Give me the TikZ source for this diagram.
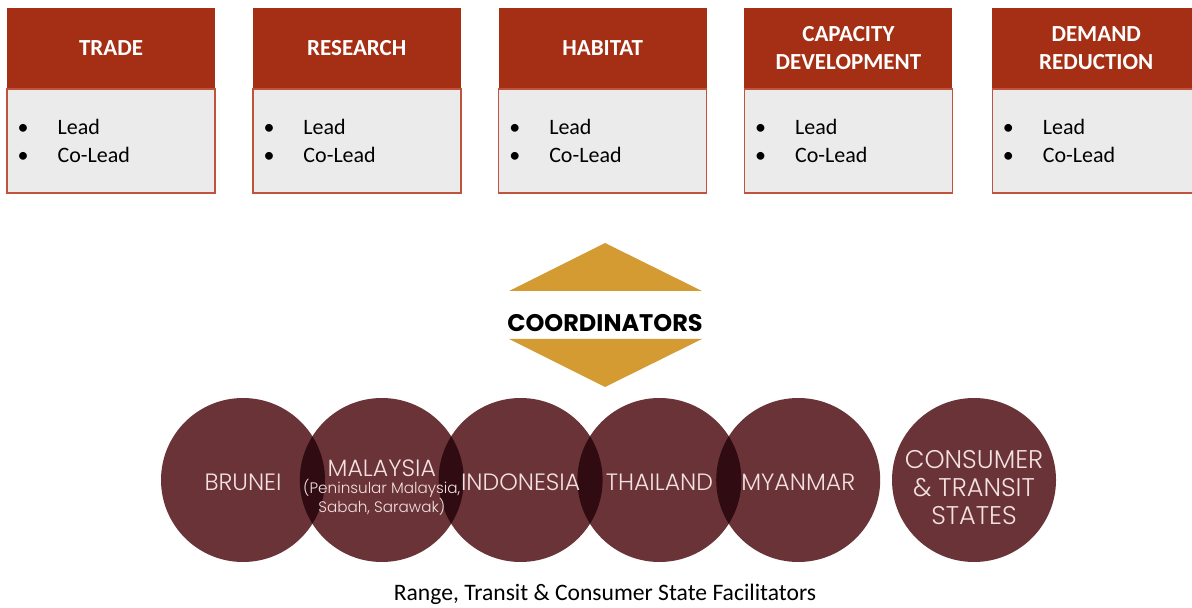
\documentclass[tikz,border=0pt]{standalone}
\usepackage{fontspec}
\setmainfont{Carlito}
\newfontfamily\circfont{Poppins}[UprightFont=* Light]
\newfontfamily\coordfont{Poppins}[UprightFont=* Bold]
\usetikzlibrary{positioning}
\definecolor{headred}{HTML}{A52F14}
\definecolor{boxline}{HTML}{C0533E}
\definecolor{bodygrey}{HTML}{EBEBEB}
\definecolor{gold}{HTML}{D39B32}
\definecolor{circfill}{HTML}{6A3338}
\definecolor{lensfill}{HTML}{300C12}
\definecolor{circtext}{HTML}{F3E1E1}
\tikzset{
  head/.style={rectangle, fill=headred, text=white, inner sep=0pt,
    minimum width=104pt, minimum height=40pt, align=center,
    font=\bfseries\fontsize{11.5}{14}\selectfont},
  body/.style={rectangle, fill=bodygrey, draw=boxline, line width=0.7pt,
    minimum width=104pt, minimum height=52pt, inner sep=0pt},
  leadlist/.style={anchor=west, inner sep=0pt, align=left,
    font=\fontsize{11}{14}\selectfont},
  country/.style={circle, fill=circfill, minimum size=82pt, inner sep=0pt},
  ctext/.style={text=circtext, align=center, inner sep=0pt,
    font=\circfont\fontsize{11.8}{14}\selectfont}
}
\newcommand{\leads}{\textbullet\hspace{14.5pt}Lead\\\textbullet\hspace{14.5pt}Co-Lead}

\begin{document}
\begin{tikzpicture}[x=0.5pt, y=-0.5pt]
        \clip (0,0) rectangle (1192,608);
        \fill[white] (0,0) rectangle (1192,608);

        %working groups
        \node[head] (trade) at (111,48) {TRADE};
        \node[head, right=18.5pt of trade] (research) {RESEARCH};
        \node[head, right=18.5pt of research] (habitat) {HABITAT};
        \node[head, right=18.5pt of habitat] (capacity) {CAPACITY\\DEVELOPMENT};
        \node[head, right=19.5pt of capacity] (demand) {DEMAND\\REDUCTION};

        \foreach \g in {trade, research, habitat, capacity, demand}{
          \node[body, below=0pt of \g] (\g-body) {};
          \node[leadlist] (\g-list) at ([xshift=5.5pt]\g-body.west) {\leads};
        }

        %coordinators
        \node[font=\coordfont\fontsize{12}{12}\selectfont] (coord) at (605,323) {COORDINATORS};
        \fill[gold] (509,291) -- (605,243) -- (702,291) -- cycle;
        \fill[gold] (509,339) -- (702,339) -- (605,387) -- cycle;

        %facilitators
        \node[country] (brunei) at (243,480) {};
        \node[country, right=-13pt of brunei] (malaysia) {};
        \node[country, right=-13pt of malaysia] (indonesia) {};
        \node[country, right=-13pt of indonesia] (thailand) {};
        \node[country, right=-13pt of thailand] (myanmar) {};
        \node[country, right=5.5pt of myanmar] (consumer) {};

        \foreach \a/\b in {brunei/malaysia, malaysia/indonesia, indonesia/thailand, thailand/myanmar}{
          \begin{scope}
            \clip (\a) circle[radius=41pt];
            \fill[lensfill] (\b) circle[radius=41pt];
          \end{scope}
        }

        \node[ctext] (brunei-t) at ([yshift=-1pt]brunei) {BRUNEI};
        \node[ctext] (malaysia-t) at ([yshift=6pt]malaysia) {MALAYSIA};
        \node[ctext, font=\circfont\fontsize{7.6}{9.5}\selectfont, below=1pt of malaysia-t]
          (malaysia-s) {(Peninsular Malaysia,\\Sabah, Sarawak)};
        \node[ctext] (indonesia-t) at ([yshift=-1pt]indonesia) {INDONESIA};
        \node[ctext] (thailand-t) at ([yshift=-1pt]thailand) {THAILAND};
        \node[ctext] (myanmar-t) at ([yshift=-1pt]myanmar) {MYANMAR};
        \node[ctext, font=\circfont\fontsize{12.8}{14}\selectfont] (consumer-t)
          at ([yshift=-4pt]consumer) {CONSUMER\\\&~TRANSIT\\STATES};

        \node[font=\fontsize{11.8}{13}\selectfont] (caption) at (605,594)
          {Range, Transit \& Consumer State Facilitators};
\end{tikzpicture}
\end{document}
